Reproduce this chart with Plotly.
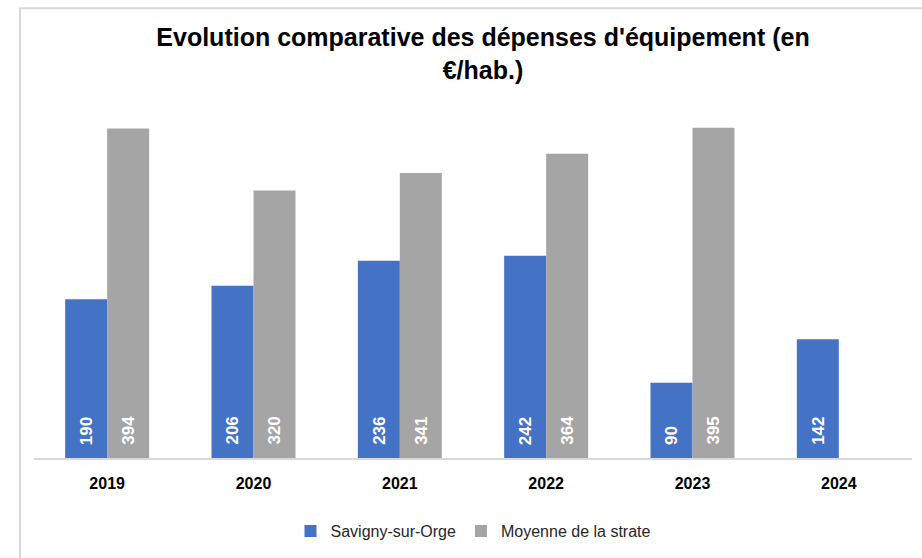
import plotly.graph_objects as go

years = ["2019", "2020", "2021", "2022", "2023", "2024"]
savigny = [190, 206, 236, 242, 90, 142]
strate = [394, 320, 341, 364, 395, None]
series_names = ["Savigny-sur-Orge", "Moyenne de la strate"]
colors = ["#4472C4", "#A5A5A5"]
title_text = "Evolution comparative des dépenses d'équipement (en<br>€/hab.)"

FONT = "Liberation Sans Narrow, Arial Narrow, Liberation Sans, Arial, sans-serif"

fig = go.Figure()
for name, vals, col in zip(series_names, [savigny, strate], colors):
    fig.add_trace(go.Bar(x=years, y=vals, name=name, marker=dict(color=col, line=dict(width=0))))

# data labels rotated, at the base of each bar (x = category index on the category axis)
for vals, shift in [(savigny, -21), (strate, 21)]:
    for idx, v in enumerate(vals):
        if v is None:
            continue
        fig.add_annotation(x=idx, y=0, xref="x", yref="y", text=f"<b>{v}</b>",
                           textangle=-90, showarrow=False, xanchor="center", yanchor="bottom",
                           xshift=shift, yshift=11,
                           font=dict(family=FONT, size=17, color="white"))

# paper area in pixels
W0, PW = 34, 878
T0, B0 = 96, 540
PH = B0 - T0
AXIS_Y = 463
def px(x):
    return (x - W0) / PW
def py(y):
    return (B0 - y) / PH

fig.add_shape(type="rect", xref="paper", yref="paper", x0=px(20), x1=px(940), y0=py(580), y1=py(7),
              line=dict(color="#D9D9D9", width=2), fillcolor="rgba(0,0,0,0)", layer="below")

fig.update_layout(
    width=922, height=558,
    margin=dict(l=W0, r=922 - W0 - PW, t=T0, b=558 - B0),
    paper_bgcolor="white", plot_bgcolor="white",
    barmode="group", bargap=0.426, bargroupgap=0,
    title=dict(text=title_text, x=px(483), xref="paper", xanchor="center", y=1 - 46/558, yanchor="top",
               font=dict(family=FONT, size=25, color="black", weight="bold")),
    xaxis=dict(type="category", range=[-0.5, len(years) - 0.5], showline=True, linecolor="#D9D9D9",
               linewidth=2, ticks="", showgrid=False, ticklabelstandoff=10,
               tickfont=dict(family=FONT, size=16, color="black", weight="bold")),
    yaxis=dict(visible=False, range=[0, 433], showgrid=False, domain=[py(AXIS_Y), 1]),
    legend=dict(orientation="h", x=0.5, xanchor="center", y=py(537), yanchor="middle",
                font=dict(family=FONT, size=16, color="#262626"), itemwidth=30, tracegroupgap=0),
    showlegend=True,
)

fig.write_html("out.html", config={"displayModeBar": False},
               post_script="document.body.style.margin='0';")
